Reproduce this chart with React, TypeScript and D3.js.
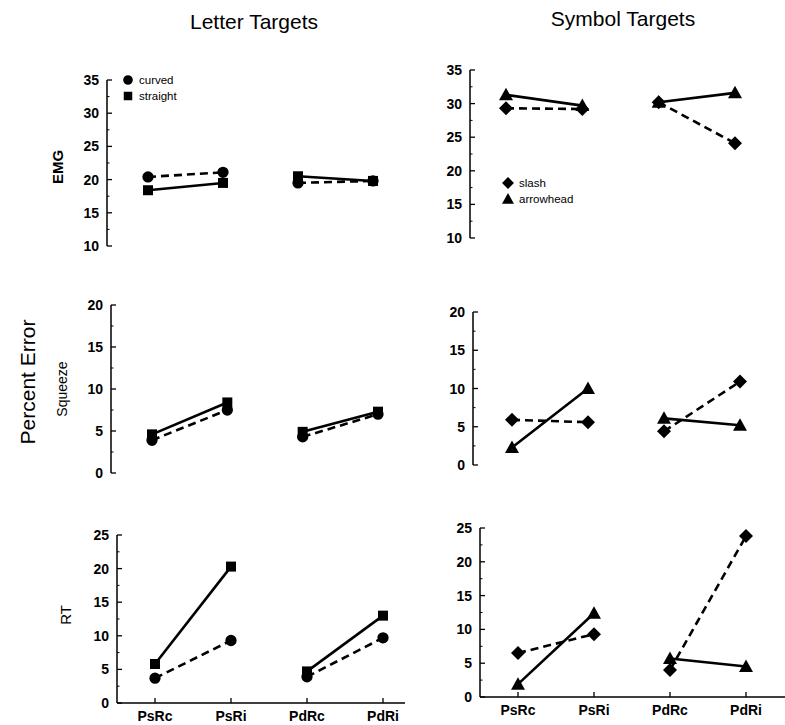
import * as d3 from 'd3';

const conditions = ['PsRc', 'PsRi', 'PdRc', 'PdRi'];

// letter targets
const emgCurved = [20.4, 21.1, 19.5, 19.8];
const emgStraight = [18.4, 19.5, 20.5, 19.8];
const squeezeCurved = [3.9, 7.5, 4.3, 7.0];
const squeezeStraight = [4.6, 8.4, 4.9, 7.3];
const rtCurved = [3.7, 9.3, 3.9, 9.7];
const rtStraight = [5.8, 20.3, 4.7, 13.0];

// symbol targets
const emgSlash = [29.3, 29.2, 30.2, 24.1];
const emgArrow = [31.3, 29.7, 30.2, 31.6];
const squeezeSlash = [5.9, 5.6, 4.4, 10.9];
const squeezeArrow = [2.3, 10.0, 6.1, 5.2];
const rtSlash = [6.5, 9.3, 4.0, 23.8];
const rtArrow = [1.9, 12.4, 5.7, 4.5];

const emgTicks = [10, 15, 20, 25, 30, 35];
const squeezeTicks = [0, 5, 10, 15, 20];
const rtTicks = [0, 5, 10, 15, 20, 25];

const FONT = '"Liberation Sans", Arial, Helvetica, sans-serif';

type Series = { values: number[]; marker: string; dashed: boolean };

const markerPath = (m: string) => {
  if (m === 'circle') return d3.symbol(d3.symbolCircle, 100)();
  if (m === 'square') return d3.symbol(d3.symbolSquare, 100)();
  if (m === 'diamond') return 'M0,-7L7,0L0,7L-7,0Z';
  return 'M0,-7L7,5.5L-7,5.5Z';
};

const Panel = ({ left, top, bottom, x0, x1, ticks, series, xAxisEnd, legend }: {
  left: number; top: number; bottom: number; x0: number; x1: number;
  ticks: number[]; series: Series[]; xAxisEnd?: number;
  legend?: { x: number; y: number; items: { marker: string; label: string }[] };
}) => {
  const y = d3.scaleLinear().domain([ticks[0], ticks[ticks.length - 1]]).range([bottom, top]);
  const x = d3.scalePoint().domain(conditions).range([x0, x1]);
  const step = ticks[1] - ticks[0];
  const minor = ticks.slice(0, -1).map(t => t + step / 2);
  const line = d3.line<[string, number]>().x(d => x(d[0])!).y(d => y(d[1]));
  // lines join each pair: Ps conditions together, Pd conditions together
  const pairs = [[0, 1], [2, 3]];
  return (
    <g>
      <line x1={left} x2={left} y1={top} y2={bottom} stroke="#000" strokeWidth={1.5} />
      {ticks.map(t => (
        <g key={t}>
          <line x1={left} x2={left + 5} y1={y(t)} y2={y(t)} stroke="#000" strokeWidth={1.3} />
          <text x={left - 8} y={y(t)} dy="0.36em" textAnchor="end" fontSize={14}
            fontWeight="bold" fontFamily={FONT}>{t}</text>
        </g>
      ))}
      {minor.map(t => (
        <line key={t} x1={left} x2={left + 2.5} y1={y(t)} y2={y(t)} stroke="#000" strokeWidth={1} />
      ))}
      {xAxisEnd && (
        <g>
          <line x1={left} x2={xAxisEnd} y1={bottom} y2={bottom} stroke="#000" strokeWidth={1.5} />
          {conditions.map(c => (
            <g key={c}>
              <line x1={x(c)} x2={x(c)} y1={bottom} y2={bottom - 5} stroke="#000" strokeWidth={1.3} />
              <text x={x(c)} y={bottom + 18} textAnchor="middle" fontSize={14} fontWeight="bold"
                fontFamily={FONT}>{c}</text>
            </g>
          ))}
        </g>
      )}
      {series.map((s, si) => (
        <g key={si}>
          {pairs.map(p => (
            <path key={p[0]} d={line(p.map(i => [conditions[i], s.values[i]] as [string, number]))!}
              fill="none" stroke="#000" strokeWidth={2.6}
              strokeDasharray={s.dashed ? '8,5' : undefined} />
          ))}
          {s.values.map((v, i) => (
            <path key={i} d={markerPath(s.marker)!}
              transform={`translate(${x(conditions[i])},${y(v)})`} fill="#000" />
          ))}
        </g>
      ))}
      {legend && legend.items.map((it, i) => (
        <g key={it.label} transform={`translate(${legend.x},${legend.y + i * 16})`}>
          <path d={markerPath(it.marker)!} fill="#000" transform="scale(0.85)" />
          <text x={11} dy="0.35em" fontSize={11.5} fontFamily={FONT}>{it.label}</text>
        </g>
      ))}
    </g>
  );
};

export default function App() {
  const letterLegend = [{ marker: 'circle', label: 'curved' }, { marker: 'square', label: 'straight' }];
  const symbolLegend = [{ marker: 'diamond', label: 'slash' }, { marker: 'triangle', label: 'arrowhead' }];
  const letter = (c: number[], s: number[]): Series[] => [
    { values: c, marker: 'circle', dashed: true },
    { values: s, marker: 'square', dashed: false },
  ];
  const symbol = (sl: number[], ar: number[]): Series[] => [
    { values: sl, marker: 'diamond', dashed: true },
    { values: ar, marker: 'triangle', dashed: false },
  ];
  return (
    <svg width={785} height={725} style={{ position: 'absolute', left: 0, top: 0 }}>
      <rect width={785} height={725} fill="#fff" />
      <text x={254} y={29} textAnchor="middle" fontSize={21} fontFamily={FONT}>Letter Targets</text>
      <text x={623} y={26} textAnchor="middle" fontSize={21} fontFamily={FONT}>Symbol Targets</text>
      <text transform="translate(35,382) rotate(-90)" textAnchor="middle" fontSize={21}
        fontFamily={FONT}>Percent Error</text>
      <text transform="translate(63,167) rotate(-90)" textAnchor="middle" fontSize={15}
        fontWeight="bold" fontFamily={FONT}>EMG</text>
      <text transform="translate(67,389) rotate(-90)" textAnchor="middle" fontSize={14}
        fontFamily={FONT}>Squeeze</text>
      <text transform="translate(71,615) rotate(-90)" textAnchor="middle" fontSize={15}
        fontFamily={FONT}>RT</text>

      <Panel left={107} top={80} bottom={246} x0={148} x1={373} ticks={emgTicks}
        series={letter(emgCurved, emgStraight)} legend={{ x: 128, y: 80, items: letterLegend }} />
      <Panel left={470} top={70} bottom={238} x0={506} x1={735} ticks={emgTicks}
        series={symbol(emgSlash, emgArrow)} legend={{ x: 508, y: 183, items: symbolLegend }} />
      <Panel left={111} top={305} bottom={473} x0={152} x1={378} ticks={squeezeTicks}
        series={letter(squeezeCurved, squeezeStraight)} />
      <Panel left={473} top={312} bottom={465} x0={512} x1={740} ticks={squeezeTicks}
        series={symbol(squeezeSlash, squeezeArrow)} />
      <Panel left={117} top={535} bottom={703} x0={155} x1={383} ticks={rtTicks}
        series={letter(rtCurved, rtStraight)} xAxisEnd={405} />
      <Panel left={480} top={528} bottom={697} x0={518} x1={746} ticks={rtTicks}
        series={symbol(rtSlash, rtArrow)} xAxisEnd={785} />
    </svg>
  );
}
